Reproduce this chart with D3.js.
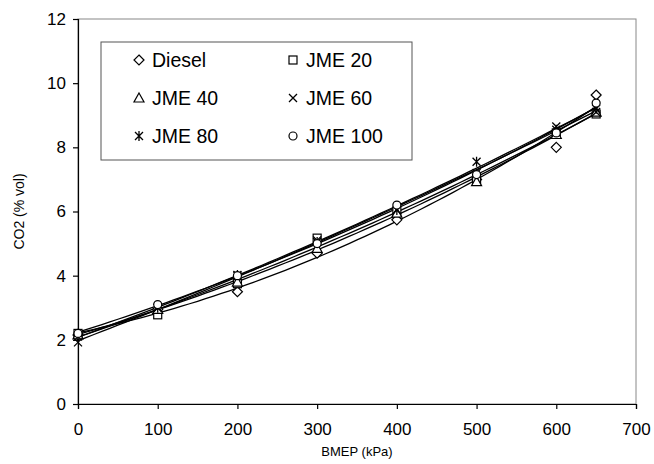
<!DOCTYPE html>
<html><head><meta charset="utf-8">
<script src="https://cdn.jsdelivr.net/npm/d3@7"></script>
<style>body{margin:0;background:#fff}svg{display:block}text{font-family:"Liberation Sans",Arial,sans-serif;fill:#000}</style>
</head><body><svg id="c" width="654" height="464"></svg>
<script>
const bmep = [0, 100, 200, 300, 400, 500, 600, 650];
const diesel = [2.15, 2.95, 3.5, 4.7, 5.74, 7.0, 8.0, 9.63];
const jme20  = [2.2, 2.78, 3.75, 5.17, 6.0, 7.0, 8.45, 9.04];
const jme40  = [2.15, 2.95, 3.8, 4.85, 5.95, 6.93, 8.4, 9.1];
const jme60  = [1.92, 3.0, 4.0, 5.1, 6.05, 7.2, 8.65, 9.1];
const jme80  = [2.1, 3.0, 4.02, 5.05, 6.05, 7.55, 8.55, 9.2];
const jme100 = [2.2, 3.1, 4.0, 5.0, 6.2, 7.15, 8.45, 9.38];
const seriesNames = ["Diesel","JME 20","JME 40","JME 60","JME 80","JME 100"];
const seriesVals = [diesel, jme20, jme40, jme60, jme80, jme100];
const markers = ["diamond","square","triangle","x","star","circle"];
const xTicks = [0,100,200,300,400,500,600,700];
const yTicks = [0,2,4,6,8,10,12];

const svg = d3.select("#c");
const L=78, R=636, T=19, B=404;
const x = d3.scaleLinear().domain([0,700]).range([L,R]);
const y = d3.scaleLinear().domain([0,12]).range([B,T]);

svg.append("rect").attr("x",L).attr("y",T).attr("width",R-L).attr("height",B-T)
  .attr("fill","none").attr("stroke","#888").attr("stroke-width",1);

const xa = svg.append("g").attr("transform",`translate(0,${B})`)
  .call(d3.axisBottom(x).tickValues(xTicks).tickSize(5).tickPadding(14).tickFormat(d3.format("d")));
const ya = svg.append("g").attr("transform",`translate(${L},0)`)
  .call(d3.axisLeft(y).tickValues(yTicks).tickSize(5).tickPadding(7).tickFormat(d3.format("d")));
[xa,ya].forEach(a=>{
  a.attr("font-size",17).attr("font-family","Liberation Sans, Arial, sans-serif");
  a.selectAll("path,line").attr("stroke","#000").attr("stroke-width",1.2);
  a.selectAll("text").attr("font-size",17);
});

svg.append("text").attr("x",(L+R)/2).attr("y",456).attr("text-anchor","middle")
  .attr("font-size",13).text("BMEP (kPa)");
svg.append("text").attr("transform",`translate(24,${(T+B)/2}) rotate(-90)`).attr("text-anchor","middle")
  .attr("font-size",14).text("CO2 (% vol)");

function quadFit(xs, ys){
  let S=[0,0,0,0,0], Sy=[0,0,0];
  xs.forEach((xv,i)=>{const p=[1,xv,xv*xv,xv**3,xv**4];for(let k=0;k<5;k++)S[k]+=p[k];
    Sy[0]+=ys[i];Sy[1]+=ys[i]*xv;Sy[2]+=ys[i]*xv*xv;});
  const M=[[S[0],S[1],S[2],Sy[0]],[S[1],S[2],S[3],Sy[1]],[S[2],S[3],S[4],Sy[2]]];
  for(let i=0;i<3;i++){for(let j=i+1;j<3;j++){const f=M[j][i]/M[i][i];for(let k=i;k<4;k++)M[j][k]-=f*M[i][k];}}
  const c=[0,0,0];
  for(let i=2;i>=0;i--){let s=M[i][3];for(let k=i+1;k<3;k++)s-=M[i][k]*c[k];c[i]=s/M[i][i];}
  return xv=>c[0]+c[1]*xv+c[2]*xv*xv;
}
const line = d3.line().x(d=>x(d[0])).y(d=>y(d[1]));
const samples = d3.range(0, 651, 10);
seriesVals.forEach(vals=>{
  const f = quadFit(bmep, vals);
  svg.append("path").attr("d", line(samples.map(s=>[s,f(s)])))
    .attr("fill","none").attr("stroke","#000").attr("stroke-width",1.3);
});

function drawMarker(g, type, cx, cy){
  const s=4;
  if(type==="diamond") g.append("path").attr("d",`M${cx},${cy-s-1}L${cx+s+1},${cy}L${cx},${cy+s+1}L${cx-s-1},${cy}Z`).attr("fill","#fff").attr("stroke","#000").attr("stroke-width",1.2);
  else if(type==="square") g.append("rect").attr("x",cx-s).attr("y",cy-s).attr("width",2*s).attr("height",2*s).attr("fill","#fff").attr("stroke","#000").attr("stroke-width",1.2);
  else if(type==="triangle") g.append("path").attr("d",`M${cx},${cy-s-1}L${cx+s+1},${cy+s}L${cx-s-1},${cy+s}Z`).attr("fill","#fff").attr("stroke","#000").attr("stroke-width",1.2);
  else if(type==="x") g.append("path").attr("d",`M${cx-s},${cy-s}L${cx+s},${cy+s}M${cx-s},${cy+s}L${cx+s},${cy-s}`).attr("stroke","#000").attr("stroke-width",1.3);
  else if(type==="star") g.append("path").attr("d",`M${cx-s},${cy-s}L${cx+s},${cy+s}M${cx-s},${cy+s}L${cx+s},${cy-s}M${cx},${cy-s-1}L${cx},${cy+s+1}`).attr("stroke","#000").attr("stroke-width",1.3);
  else if(type==="circle") g.append("circle").attr("cx",cx).attr("cy",cy).attr("r",s).attr("fill","#fff").attr("stroke","#000").attr("stroke-width",1.2);
}
const mg = svg.append("g");
seriesVals.forEach((vals,si)=>{
  vals.forEach((v,i)=>drawMarker(mg, markers[si], x(bmep[i]), y(v)));
});

const lg = svg.append("g");
lg.append("rect").attr("x",101).attr("y",42).attr("width",311).attr("height",118)
  .attr("fill","#fff").attr("stroke","#555").attr("stroke-width",1);
seriesNames.forEach((n,i)=>{
  const col=i%2, row=Math.floor(i/2);
  const mx = col===0?139:293, my = 60+row*38;
  drawMarker(lg, markers[i], mx, my);
  lg.append("text").attr("x",mx+13).attr("y",my+7).attr("font-size",19.5).text(n);
});
</script></body></html>
